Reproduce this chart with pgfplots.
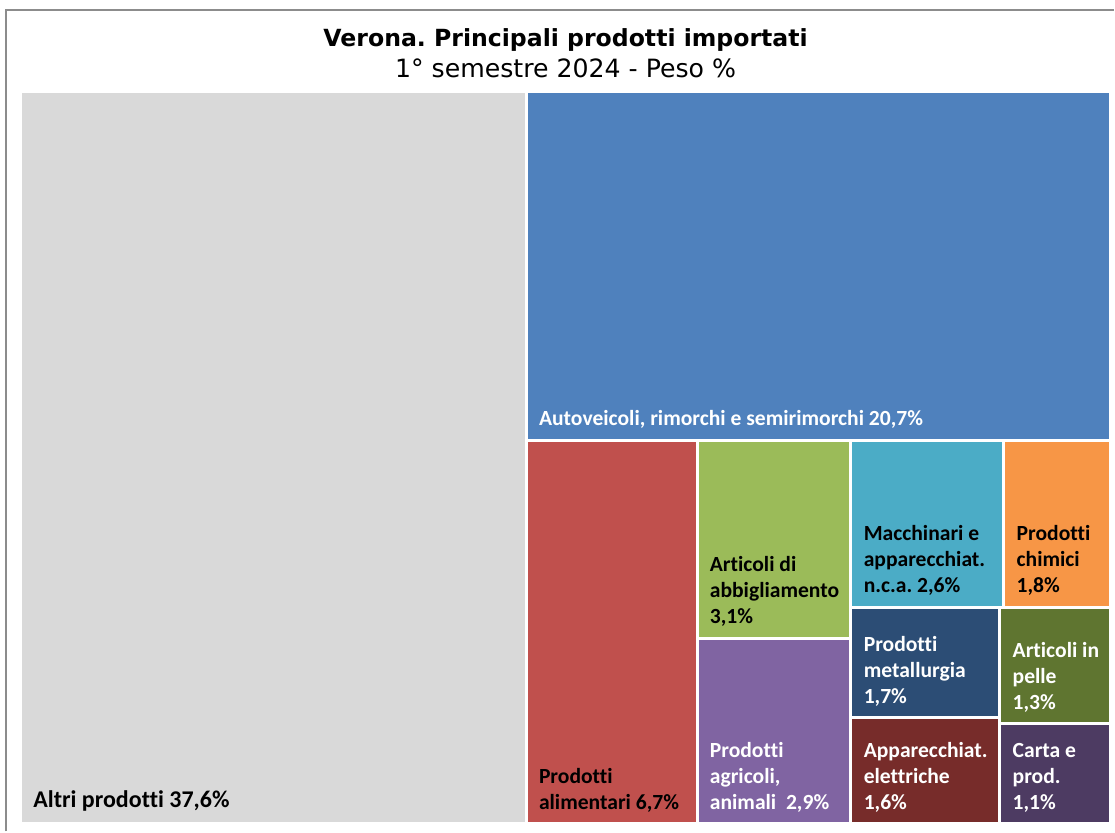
\documentclass[border=0pt]{standalone}
\usepackage{fontspec}
\setmainfont{Carlito}[Ligatures=NoCommon]
\newfontfamily\titlefont{DejaVu Sans}
\usepackage{pgfplots}
\pgfplotsset{compat=1.18}
\frenchspacing

\definecolor{cGray}{HTML}{D9D9D9}
\definecolor{cBlue}{HTML}{4F81BD}
\definecolor{cRed}{HTML}{C0504D}
\definecolor{cGreen}{HTML}{9BBB59}
\definecolor{cPurple}{HTML}{8064A2}
\definecolor{cTeal}{HTML}{4BACC6}
\definecolor{cOrange}{HTML}{F79646}
\definecolor{cNavy}{HTML}{2C4D75}
\definecolor{cOlive}{HTML}{5F7530}
\definecolor{cMaroon}{HTML}{772C2A}
\definecolor{cPlum}{HTML}{4D3B62}
\definecolor{cFrame}{HTML}{8C8C8C}

% one tile of the treemap: x0, y0, x1, y1 (pixels, y downwards), colour
\newcommand{\tile}[5]{%
  \addplot[fill=#5, draw=none] coordinates {(#1,#2) (#3,#2) (#3,#4) (#1,#4)} -- cycle;}
% label in the lower left corner of a tile: x0, y1, colour, text
\newcommand{\tlabel}[4]{%
  \node[anchor=south west, align=left, inner sep=0pt, text=#3,
        font=\fontsize{10.8}{13}\selectfont\bfseries]
    at (axis cs:#1+11,#2-10) {#4};}

\begin{document}
\begin{tikzpicture}
\begin{axis}[
  scale only axis,
  width=557.5pt, height=416pt,
  xmin=0, xmax=1115, ymin=0, ymax=832,
  y dir=reverse,
  hide axis,
  clip=false,
]
% frame
\addplot[cFrame, line width=0.8pt] coordinates {(6,832) (6,10) (1115,10)};
\addplot[draw=none] coordinates {(0,0) (1115,832)};

% tiles (share of imports, %): 37.6, 20.7, 6.7, 3.1, 2.9, 2.6, 1.8, 1.7, 1.6, 1.3, 1.1
\tile{22}{93}{525}{823}{cGray}
\tile{528}{93}{1110}{439}{cBlue}
\tile{528}{442}{696}{823}{cRed}
\tile{699}{442}{850}{637}{cGreen}
\tile{699}{640}{850}{823}{cPurple}
\tile{853}{442}{1003}{606}{cTeal}
\tile{1006}{442}{1110}{606}{cOrange}
\tile{853}{609}{999}{717}{cNavy}
\tile{853}{720}{999}{823}{cMaroon}
\tile{1002}{609}{1110}{723}{cOlive}
\tile{1002}{726}{1110}{823}{cPlum}

\node[anchor=south west, inner sep=0pt, font=\fontsize{12}{14}\selectfont\bfseries]
  at (axis cs:33,812) {Altri prodotti 37,6\%};
\tlabel{528}{439}{white}{Autoveicoli, rimorchi e semirimorchi 20,7\%}
\tlabel{528}{823}{black}{Prodotti\\alimentari 6,7\%}
\tlabel{699}{637}{black}{Articoli di\\abbigliamento\\3,1\%}
\tlabel{699}{823}{white}{Prodotti\\agricoli,\\animali\ \ 2,9\%}
\tlabel{853}{606}{black}{Macchinari e\\apparecchiat.\\n.c.a. 2,6\%}
\tlabel{1006}{606}{black}{Prodotti\\chimici\\1,8\%}
\tlabel{853}{717}{white}{Prodotti\\metallurgia\\1,7\%}
\tlabel{853}{823}{white}{Apparecchiat.\\elettriche\\1,6\%}
\tlabel{1002}{723}{white}{Articoli in\\pelle\\1,3\%}
\tlabel{1002}{823}{white}{Carta e\\prod.\\1,1\%}

% titles
\node[font=\titlefont\fontsize{11.8}{14}\selectfont\bfseries] at (axis cs:566,40) {Verona. Principali prodotti importati};
\node[font=\titlefont\fontsize{12.6}{15}\selectfont] at (axis cs:566,68) {1° semestre 2024 - Peso \%};
\end{axis}
\end{tikzpicture}
\end{document}
